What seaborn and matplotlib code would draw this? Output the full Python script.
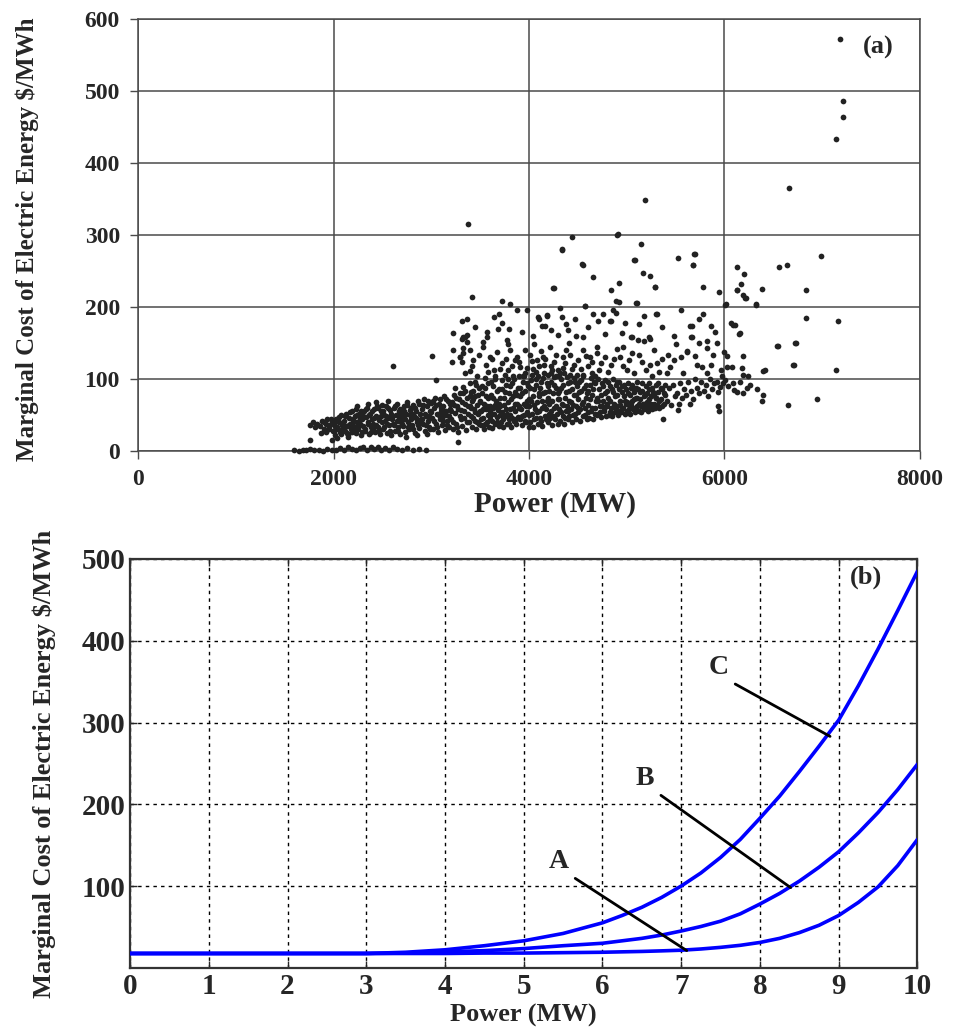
"""
Marginal cost of electric energy vs power:
(a) observed market data (scatter), (b) model curves A, B, C.
"""

import pandas as pd
import matplotlib.pyplot as plt
import seaborn as sns

# ---------------- panel (a): scatter, (MW, $/MWh) ----------------
zero_row = [
    (1600, 1), (1650, 0), (1690, 2), (1720, 1), (1760, 3), (1800, 1), (1850, 2), (1890, 0),
    (1930, 3), (1980, 1), (2030, 2), (2070, 4), (2110, 2), (2150, 5), (2190, 3), (2230, 1),
    (2270, 4), (2300, 6), (2340, 2), (2380, 5), (2410, 3), (2450, 6), (2490, 2), (2530, 4),
    (2570, 1), (2610, 5), (2650, 3), (2700, 2), (2750, 4), (2810, 1), (2870, 3), (2950, 1),
]

band_west = [
    (1760, 36), (1790, 40), (1810, 33), (1830, 38), (1860, 35), (1880, 42), (1905, 30),
    (1925, 37), (1950, 34), (1970, 44), (1990, 28), (1995, 39), (1760, 16), (1985, 16), (1870, 25),
    (2010, 22), (2020, 35), (2030, 45), (2045, 30), (2055, 40), (2065, 26), (2075, 50), (2085, 36),
    (2095, 31), (2040, 18),
    (2105, 42), (2115, 28), (2125, 52), (2135, 35), (2145, 22), (2155, 46), (2165, 38), (2175, 30),
    (2185, 55), (2195, 41), (2150, 19),
    (2205, 33), (2215, 48), (2225, 25), (2235, 58), (2245, 40), (2255, 30), (2265, 52), (2275, 37),
    (2285, 22), (2295, 45), (2240, 62),
    (2305, 35), (2315, 55), (2325, 28), (2335, 47), (2345, 60), (2355, 40), (2365, 23), (2375, 52),
    (2385, 33), (2395, 44), (2350, 66),
    (2405, 38), (2415, 58), (2425, 27), (2435, 49), (2445, 62), (2455, 34), (2465, 43), (2475, 24),
    (2485, 55), (2495, 40), (2430, 68),
]

band_mid = [
    (2505, 30), (2515, 50), (2525, 42), (2535, 63), (2545, 25), (2555, 46), (2565, 36), (2575, 57),
    (2585, 22), (2595, 44), (2560, 70),
    (2605, 38), (2615, 60), (2625, 28), (2635, 50), (2645, 66), (2655, 33), (2665, 45), (2675, 55),
    (2685, 24), (2695, 41), (2612, 118),
    (2705, 47), (2715, 35), (2725, 62), (2735, 27), (2745, 52), (2755, 68), (2765, 40), (2775, 30),
    (2785, 57), (2795, 44), (2740, 20),
    (2805, 36), (2815, 64), (2825, 49), (2835, 25), (2845, 56), (2855, 41), (2865, 70), (2875, 32),
    (2885, 52), (2895, 45), (2850, 22),
    (2905, 58), (2915, 38), (2925, 72), (2935, 28), (2945, 48), (2955, 62), (2965, 42), (2975, 33),
    (2985, 55), (2995, 67), (2960, 24),
    (3005, 46), (3015, 30), (3025, 60), (3035, 74), (3045, 38), (3055, 52), (3065, 26), (3075, 66),
    (3085, 44), (3095, 56), (3048, 99), (3004, 132),
    (3105, 36), (3115, 63), (3125, 48), (3135, 76), (3145, 29), (3155, 55), (3165, 42), (3175, 70),
    (3185, 33), (3195, 58), (3150, 50),
    (3205, 45), (3215, 68), (3225, 30), (3235, 78), (3245, 53), (3255, 38), (3265, 62), (3275, 27),
    (3285, 72), (3295, 48), (3243, 87), (3209, 123), (3226, 140), (3226, 164), (3274, 12),
    (3305, 57), (3315, 35), (3325, 80), (3335, 46), (3345, 66), (3355, 29), (3365, 74), (3375, 52),
    (3385, 40), (3395, 62), (3328, 89), (3396, 94), (3345, 108), (3396, 111), (3311, 124),
    (3294, 130), (3430, 126), (3328, 143), (3362, 152), (3311, 156), (3345, 159), (3311, 180),
    (3362, 184), (3413, 214), (3373, 315), (3328, 136), (3397, 140), (3294, 131),
]

band_core = [
    (3405, 48), (3412, 70), (3420, 34), (3428, 84), (3436, 58), (3444, 42), (3452, 76), (3460, 31),
    (3468, 64), (3476, 52), (3484, 88), (3492, 38), (3498, 68), (3446, 96),
    (3505, 55), (3512, 36), (3520, 80), (3528, 46), (3536, 66), (3544, 30), (3552, 88), (3560, 59),
    (3568, 41), (3576, 73), (3584, 50), (3592, 34), (3598, 62), (3548, 102),
    (3605, 44), (3612, 78), (3620, 32), (3628, 60), (3636, 90), (3644, 52), (3652, 38), (3660, 70),
    (3668, 47), (3676, 84), (3684, 57), (3692, 35), (3698, 66), (3640, 112),
    (3705, 62), (3712, 40), (3720, 86), (3728, 54), (3736, 33), (3744, 74), (3752, 48), (3760, 92),
    (3768, 58), (3776, 37), (3784, 68), (3792, 45), (3798, 80), (3750, 106),
    (3805, 50), (3812, 72), (3820, 34), (3828, 94), (3836, 60), (3844, 42), (3852, 82), (3860, 55),
    (3868, 38), (3876, 66), (3884, 88), (3892, 47), (3898, 62), (3830, 118),
    (3905, 44), (3912, 76), (3920, 58), (3928, 36), (3936, 96), (3944, 66), (3952, 50), (3960, 84),
    (3968, 40), (3976, 70), (3984, 54), (3992, 90), (3998, 34), (3955, 108),
    (4005, 62), (4012, 40), (4020, 98), (4028, 52), (4036, 76), (4044, 34), (4052, 86), (4060, 58),
    (4068, 46), (4076, 100), (4084, 68), (4092, 38), (4098, 80), (4040, 114),
    (4105, 55), (4112, 88), (4120, 42), (4128, 70), (4136, 35), (4144, 102), (4152, 62), (4160, 48),
    (4168, 82), (4176, 58), (4184, 94), (4192, 40), (4198, 74), (4150, 120),
    (4205, 66), (4212, 46), (4220, 96), (4228, 56), (4236, 36), (4244, 80), (4252, 103), (4260, 60),
    (4268, 44), (4276, 88), (4284, 52), (4292, 72), (4298, 38), (4240, 112),
    (4305, 58), (4312, 84), (4320, 42), (4328, 100), (4336, 66), (4344, 48), (4352, 92), (4360, 38),
    (4368, 74), (4376, 56), (4384, 103), (4392, 62), (4398, 45), (4350, 116),
]

band_east = [
    (4405, 70), (4412, 48), (4420, 96), (4428, 58), (4436, 40), (4444, 86), (4452, 64), (4460, 102),
    (4468, 52), (4476, 78), (4484, 44), (4492, 90), (4498, 60),
    (4505, 54), (4515, 82), (4525, 42), (4535, 98), (4545, 66), (4555, 48), (4565, 88), (4575, 60),
    (4585, 74), (4595, 45), (4550, 106),
    (4605, 64), (4615, 46), (4625, 92), (4635, 56), (4645, 78), (4655, 44), (4665, 96), (4675, 60),
    (4685, 70), (4695, 50), (4640, 108),
    (4705, 52), (4715, 86), (4725, 62), (4735, 47), (4745, 94), (4755, 70), (4765, 55), (4775, 80),
    (4785, 48), (4795, 66),
    (4805, 74), (4815, 50), (4825, 90), (4835, 60), (4845, 48), (4855, 82), (4865, 66), (4875, 54),
    (4885, 92), (4895, 58),
    (4905, 62), (4915, 50), (4925, 86), (4935, 70), (4945, 54), (4955, 90), (4965, 60), (4975, 76),
    (4985, 52), (4995, 66),
    (5005, 56), (5015, 80), (5025, 64), (5035, 52), (5045, 88), (5055, 70), (5065, 58), (5075, 82),
    (5085, 54), (5095, 74),
    (5105, 62), (5115, 86), (5125, 56), (5135, 72), (5145, 54), (5155, 84), (5165, 66), (5175, 58),
    (5185, 78), (5195, 62),
    (5205, 68), (5215, 56), (5225, 86), (5235, 62), (5245, 76), (5255, 58), (5265, 82), (5275, 66),
    (5285, 60), (5295, 74),
    (5305, 64), (5320, 82), (5335, 60), (5350, 72), (5365, 86), (5374, 45), (5385, 66), (5395, 78),
]

# second pass over the dense band (points between the ones above)
band_fill = [
    (1902, 41), (1918, 27), (1938, 45), (1958, 31), (1978, 38),
    (2002, 28), (2018, 42), (2038, 33), (2058, 47), (2078, 24), (2092, 38),
    (2102, 32), (2118, 48), (2138, 25), (2158, 36), (2172, 54), (2188, 27), (2198, 44),
    (2202, 40), (2218, 29), (2238, 50), (2252, 35), (2268, 44), (2282, 56), (2296, 27),
    (2302, 48), (2318, 31), (2332, 58), (2352, 38), (2368, 50), (2382, 26), (2398, 56),
    (2402, 30), (2418, 46), (2432, 36), (2452, 60), (2468, 29), (2482, 48), (2498, 64),
    (2502, 56), (2518, 33), (2532, 48), (2548, 38), (2562, 60), (2578, 28), (2592, 52),
    (2602, 47), (2618, 36), (2632, 62), (2648, 42), (2662, 28), (2678, 58), (2692, 50),
    (2702, 38), (2718, 56), (2732, 44), (2748, 64), (2762, 33), (2778, 50), (2792, 60),
    (2802, 52), (2818, 30), (2832, 60), (2848, 46), (2862, 36), (2878, 66), (2892, 40),
    (2902, 44), (2918, 64), (2932, 52), (2948, 36), (2962, 70), (2978, 48), (2992, 30),
    (3002, 54), (3018, 70), (3032, 42), (3048, 64), (3062, 34), (3078, 50), (3092, 72),
    (3102, 60), (3118, 42), (3132, 56), (3148, 72), (3162, 36), (3178, 48), (3192, 66),
    (3202, 56), (3218, 40), (3232, 64), (3248, 74), (3262, 34), (3278, 58), (3292, 80),
    (3302, 44), (3318, 68), (3332, 56), (3348, 84), (3362, 40), (3378, 62), (3392, 76),
    (3402, 60), (3408, 82), (3424, 46), (3432, 72), (3448, 54), (3456, 92), (3472, 40),
    (3480, 78), (3496, 56),
    (3502, 70), (3508, 44), (3524, 90), (3532, 58), (3548, 38), (3556, 76), (3572, 62),
    (3580, 94), (3596, 48),
    (3602, 56), (3608, 96), (3624, 42), (3632, 74), (3648, 64), (3656, 100), (3672, 40),
    (3680, 60), (3696, 86),
    (3702, 50), (3708, 74), (3724, 98), (3732, 44), (3748, 64), (3756, 82), (3772, 52),
    (3780, 100), (3796, 38),
    (3802, 58), (3808, 90), (3824, 46), (3832, 76), (3848, 100), (3856, 66), (3872, 44),
    (3880, 78), (3896, 104),
    (3902, 60), (3908, 88), (3924, 48), (3932, 80), (3948, 104), (3956, 42), (3972, 62),
    (3980, 94), (3996, 72),
    (4002, 50), (4008, 88), (4024, 70), (4032, 106), (4048, 44), (4056, 64), (4072, 92),
    (4080, 54), (4096, 104),
    (4102, 76), (4108, 46), (4124, 96), (4132, 60), (4148, 80), (4156, 108), (4172, 44),
    (4180, 70), (4196, 90),
    (4202, 52), (4208, 84), (4224, 108), (4232, 70), (4248, 48), (4256, 92), (4272, 62),
    (4280, 104), (4296, 80),
    (4302, 72), (4308, 104), (4324, 54), (4332, 88), (4348, 64), (4356, 108), (4372, 46),
    (4380, 82), (4396, 94),
    (4402, 56), (4408, 84), (4424, 106), (4432, 68), (4448, 50), (4456, 78), (4472, 96),
    (4480, 62), (4496, 106),
    (4502, 72), (4508, 96), (4524, 58), (4532, 84), (4548, 104), (4556, 68), (4572, 50),
    (4580, 92), (4596, 80),
    (4602, 84), (4608, 54), (4624, 72), (4632, 102), (4648, 60), (4656, 86), (4672, 52),
    (4680, 94), (4696, 74),
    (4702, 70), (4708, 100), (4724, 54), (4732, 78), (4748, 62), (4756, 90), (4772, 58),
    (4780, 98), (4796, 84),
    (4802, 62), (4808, 96), (4824, 70), (4832, 54), (4848, 86), (4856, 100), (4872, 62),
    (4880, 76), (4896, 96),
    (4902, 78), (4908, 56), (4924, 96), (4932, 64), (4948, 82), (4956, 58), (4972, 92),
    (4980, 70), (4996, 86),
    (5002, 68), (5008, 94), (5024, 58), (5032, 78), (5048, 64), (5056, 92), (5072, 72),
    (5080, 60), (5096, 88),
    (5102, 74), (5108, 96), (5124, 66), (5132, 82), (5148, 62), (5156, 94), (5172, 76),
    (5180, 66), (5196, 90),
    (5202, 60), (5208, 80), (5224, 72), (5232, 94), (5248, 66), (5256, 88), (5272, 60),
    (5280, 78), (5296, 92),
    (5302, 74), (5318, 94), (5332, 70), (5348, 88), (5362, 62), (5378, 80), (5392, 92),
]

band_tail = [
    (5410, 70), (5430, 88), (5450, 64), (5470, 92), (5490, 76), (5443, 117), (5409, 108),
    (5510, 80), (5530, 66), (5528, 57), (5550, 94), (5570, 74), (5590, 86), (5579, 108),
    (5610, 78), (5630, 96), (5647, 66), (5660, 84), (5680, 72), (5700, 100), (5613, 138),
    (5715, 119), (5720, 88), (5740, 80), (5766, 117), (5760, 96), (5790, 84), (5818, 108),
    (5810, 92), (5830, 76), (5850, 100), (5870, 86), (5890, 94), (5920, 96), (5937, 62),
    (5947, 55), (5954, 89), (5988, 94), (5930, 82), (5970, 104),
    (6010, 98), (6040, 90), (6090, 94), (6095, 85), (6125, 82), (6159, 96), (6193, 105),
    (6193, 80), (6230, 88), (6244, 104), (6260, 92), (6329, 86), (6397, 78), (6380, 70),
    (6417, 112), (6175, 115), (6022, 117), (6072, 117),
]

mid_scatter = [
    (3533, 145), (3601, 131), (3806, 140), (3874, 131), (3908, 117), (4079, 126), (4147, 131),
    (4215, 145), (4351, 131), (4420, 133), (4556, 140), (4624, 131), (4692, 136), (4931, 131),
    (4965, 145), (5050, 136), (5238, 119), (5306, 122), (3650, 104), (3720, 122), (3790, 112),
    (3860, 127), (3940, 104), (4010, 134), (4070, 110), (4120, 139), (4190, 106), (4260, 124),
    (4320, 108), (4380, 141), (4440, 114), (4500, 126), (4600, 118), (4680, 104), (4740, 122),
    (4810, 110), (4870, 128), (5000, 112), (5160, 124), (5260, 104),
    (3420, 118), (3470, 104), (3490, 133), (3560, 120), (3580, 110), (3620, 128), (3670, 138),
    (3700, 114), (3760, 128), (3780, 148), (3840, 104), (3900, 124), (3960, 140), (3980, 116),
    (4030, 125), (4050, 148), (4100, 118), (4160, 128), (4230, 118), (4280, 134), (4300, 112),
    (4370, 122), (4410, 150), (4460, 120), (4530, 114), (4580, 132), (4640, 124), (4700, 144),
    (4720, 112), (4780, 130), (4840, 120), (4900, 142), (4960, 118), (5020, 126), (5070, 108),
    (5130, 134), (5200, 112), (5280, 140), (5330, 110), (5360, 128), (5420, 134), (5480, 126),
    (5500, 148), (5560, 130), (5700, 132), (5740, 150), (5860, 120), (5880, 134), (5960, 112),
    (6000, 138),
    (3450, 172), (3640, 186), (3800, 170), (3880, 196), (4040, 160), (4230, 168), (4380, 176),
    (4480, 160), (4600, 172), (4760, 190), (4980, 178), (5180, 188), (5360, 172), (5480, 160),
    (5560, 196), (5740, 184), (5900, 166),
]

high_scatter = [
    (7182, 572), (7209, 486), (7209, 464), (7137, 433), (6663, 365), (5187, 349), (6987, 271),
    (4443, 297), (4907, 301), (5146, 287), (4338, 280), (5527, 268), (5691, 274), (5674, 258),
    (5077, 265), (4549, 259), (6636, 259), (4657, 242), (5163, 247), (5238, 243), (6124, 255),
    (6202, 246), (6165, 232), (6124, 224), (6192, 217), (6216, 213), (6380, 225), (6829, 224),
    (4253, 227), (4924, 234), (4839, 224), (5292, 228), (5783, 228), (5946, 221), (7164, 181),
    (6829, 185), (7137, 113), (6711, 119), (6732, 150), (6540, 146), (6950, 72), (6646, 64),
    (6319, 204), (6012, 204), (6063, 178), (6090, 175), (6150, 163), (6192, 132), (6022, 132),
    (6397, 111), (5783, 190), (5857, 174), (5652, 174), (5659, 159), (5823, 153), (5919, 150),
    (5619, 139), (5823, 143), (5298, 190), (5128, 176), (5100, 206), (4918, 207), (4890, 192),
    (4839, 180), (4657, 191), (4703, 180), (4573, 202), (4471, 183), (4317, 198), (4187, 189),
    (3983, 196), (4105, 183), (4402, 168), (4778, 163), (4948, 164), (5040, 158), (5176, 153),
    (5238, 156), (3727, 209), (3806, 204), (3693, 191), (3721, 178), (3686, 170), (3328, 159),
    (3362, 161), (3567, 166), (3567, 159), (3533, 152), (3772, 154), (3925, 166), (4095, 186),
    (4181, 187), (4130, 173), (4164, 174), (4334, 186), (4300, 161), (4556, 158), (4829, 180),
    (4862, 196), (5050, 159), (5118, 154), (5231, 158), (5306, 191), (5664, 173), (5664, 159),
    (6107, 175), (6158, 164), (6550, 146), (6721, 150), (6704, 119), (6130, 224), (6209, 213),
    (6005, 203), (6322, 203), (5681, 258), (5698, 274), (5289, 228), (5085, 265), (4897, 300),
    (4334, 279), (4545, 260), (4248, 227), (4890, 209), (5095, 206), (4573, 201), (6560, 255),
]

# ---------------- panel (b): model curves ----------------
power_b = [0, 1, 2, 3, 3.5, 4, 4.5, 5, 5.5, 6, 6.25, 6.5, 6.75, 7, 7.25, 7.5, 7.75,
           8, 8.25, 8.5, 8.75, 9, 9.25, 9.5, 9.75, 10]
cost_a = [17.5, 17.5, 17.5, 17.5, 17.5, 17.5, 18, 18, 18.5, 19, 19.5, 20, 20.7, 21.5,
          23, 25, 27.5, 31, 36, 43, 52, 64, 80, 99, 125, 157]
cost_b = [17.5, 17.5, 17.5, 17.5, 18, 19.5, 21, 23.5, 27, 30, 33, 36, 40, 45,
          50.5, 57, 66, 78, 91, 106, 123, 142, 165, 190, 218, 249]
cost_c = [17.5, 17.5, 17.5, 17.5, 19, 22, 27, 33, 42, 55, 64, 74, 86, 100,
          116, 135, 157, 183, 210, 240, 271, 303, 345, 390, 437, 485]

ylabel_txt = 'Marginal Cost of Electric Energy $/MWh'


def main():
    sns.set_style('white')
    plt.rcParams['font.family'] = ['Liberation Serif', 'DejaVu Serif']
    plt.rcParams['mathtext.default'] = 'regular'

    fig = plt.figure(figsize=(9.56, 10.3), dpi=100)
    ax1 = fig.add_axes([0.1444, 0.5621, 0.8179, 0.4194])
    ax2 = fig.add_axes([0.136, 0.0604, 0.8237, 0.3969])

    # ---- (a) ----
    pts = zero_row + band_west + band_mid + band_core + band_east + band_fill \
        + band_tail + mid_scatter + high_scatter
    df_a = pd.DataFrame(pts, columns=['power', 'cost'])
    sns.scatterplot(data=df_a, x='power', y='cost', ax=ax1, color='#222222',
                    s=17, linewidth=0, clip_on=False, zorder=3)
    ax1.set_xlim(0, 8000)
    ax1.set_ylim(0, 600)
    ax1.set_xticks(range(0, 8001, 2000))
    ax1.set_yticks(range(0, 601, 100))
    ax1.grid(True, color='#4a4a4a', lw=1.1)
    for sp in ax1.spines.values():
        sp.set_color('#4a4a4a')
        sp.set_linewidth(1.1)
    ax1.tick_params(direction='out', length=6, width=1, color='#4a4a4a',
                    labelsize=17, left=True, bottom=True)
    ax1.tick_params(axis='y', pad=7)
    ax1.tick_params(axis='x', pad=7)
    for lab in ax1.get_xticklabels() + ax1.get_yticklabels():
        lab.set_fontweight('bold')
    ax1.set_xlabel('Power (MW)', fontsize=21, fontweight='bold')
    ax1.set_ylabel(ylabel_txt, fontsize=18, fontweight='bold')
    ax1.xaxis.set_label_coords(0.533, -0.092)
    ax1.yaxis.set_label_coords(-0.127, 0.49)
    ax1.text(7570, 560, '(a)', fontsize=19, fontweight='bold', ha='center', va='center')

    # ---- (b) ----
    df_b = pd.concat([
        pd.DataFrame({'power': power_b, 'cost': cost_a, 'curve': 'A'}),
        pd.DataFrame({'power': power_b, 'cost': cost_b, 'curve': 'B'}),
        pd.DataFrame({'power': power_b, 'cost': cost_c, 'curve': 'C'}),
    ])
    sns.lineplot(data=df_b, x='power', y='cost', hue='curve', ax=ax2,
                 palette={'A': '#0000ff', 'B': '#0000ff', 'C': '#0000ff'},
                 estimator=None, sort=False, lw=2.6, legend=False, zorder=3)
    ax2.set_xlim(0, 10)
    ax2.set_ylim(0, 500)
    ax2.set_xticks(range(0, 11))
    ax2.set_yticks(range(100, 501, 100))
    ax2.grid(True, color='k', lw=1.0, linestyle=(0, (2.5, 3)))
    for sp in ax2.spines.values():
        sp.set_color('#333333')
        sp.set_linewidth(1.6)
    ax2.tick_params(direction='in', length=5, width=1, labelsize=21,
                    left=True, bottom=True, top=True, right=True)
    ax2.tick_params(axis='y', pad=3)
    ax2.tick_params(axis='x', pad=4)
    for lab in ax2.get_xticklabels() + ax2.get_yticklabels():
        lab.set_fontweight('bold')
    ax2.set_xlabel('Power (MW)', fontsize=19, fontweight='bold')
    ax2.set_ylabel(ylabel_txt, fontsize=19, fontweight='bold')
    ax2.xaxis.set_label_coords(0.499, -0.089)
    ax2.yaxis.set_label_coords(-0.094, 0.5)
    ax2.text(9.34, 478, '(b)', fontsize=19, fontweight='bold', ha='center', va='center')

    arrow = dict(arrowstyle='-', color='k', lw=2, relpos=(1, 0), shrinkA=3, shrinkB=0)
    ax2.annotate('C', xy=(8.89, 283), xytext=(7.47, 367), fontsize=20, fontweight='bold',
                 ha='center', va='center', arrowprops=arrow)
    ax2.annotate('B', xy=(8.39, 98), xytext=(6.54, 232), fontsize=20, fontweight='bold',
                 ha='center', va='center', arrowprops=arrow)
    ax2.annotate('A', xy=(7.07, 21), xytext=(5.44, 130), fontsize=20, fontweight='bold',
                 ha='center', va='center', arrowprops=arrow)

    fig.savefig('out.png', dpi=100)
    plt.close(fig)


if __name__ == '__main__':
    main()
